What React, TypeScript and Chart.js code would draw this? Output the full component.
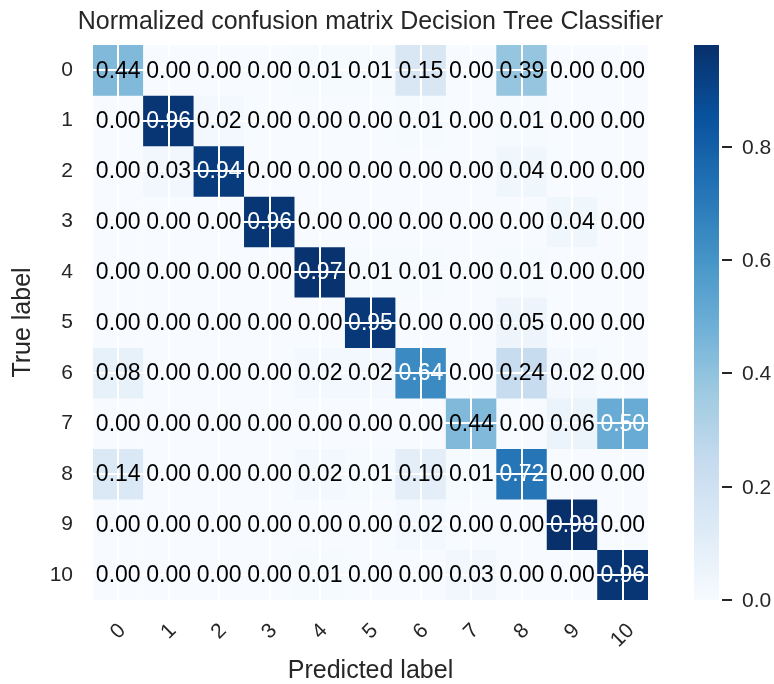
import React, { useEffect, useRef } from 'react';
import { Chart, registerables } from 'chart.js';

Chart.register(...registerables);

const FONT = '"Liberation Sans", Arial, sans-serif';
const TEXT_COLOR = '#262626';

const TITLE = 'Normalized confusion matrix Decision Tree Classifier';
const X_TITLE = 'Predicted label';
const Y_TITLE = 'True label';

const PRED_LABELS = ['0', '1', '2', '3', '4', '5', '6', '7', '8', '9', '10'];
const TRUE_LABELS = ['0', '1', '2', '3', '4', '5', '6', '7', '8', '9', '10'];

const ROW_0 = [0.44, 0.0, 0.0, 0.0, 0.01, 0.01, 0.15, 0.0, 0.39, 0.0, 0.0];
const ROW_1 = [0.0, 0.96, 0.02, 0.0, 0.0, 0.0, 0.01, 0.0, 0.01, 0.0, 0.0];
const ROW_2 = [0.0, 0.03, 0.94, 0.0, 0.0, 0.0, 0.0, 0.0, 0.04, 0.0, 0.0];
const ROW_3 = [0.0, 0.0, 0.0, 0.96, 0.0, 0.0, 0.0, 0.0, 0.0, 0.04, 0.0];
const ROW_4 = [0.0, 0.0, 0.0, 0.0, 0.97, 0.01, 0.01, 0.0, 0.01, 0.0, 0.0];
const ROW_5 = [0.0, 0.0, 0.0, 0.0, 0.0, 0.95, 0.0, 0.0, 0.05, 0.0, 0.0];
const ROW_6 = [0.08, 0.0, 0.0, 0.0, 0.02, 0.02, 0.64, 0.0, 0.24, 0.02, 0.0];
const ROW_7 = [0.0, 0.0, 0.0, 0.0, 0.0, 0.0, 0.0, 0.44, 0.0, 0.06, 0.5];
const ROW_8 = [0.14, 0.0, 0.0, 0.0, 0.02, 0.01, 0.1, 0.01, 0.72, 0.0, 0.0];
const ROW_9 = [0.0, 0.0, 0.0, 0.0, 0.0, 0.0, 0.02, 0.0, 0.0, 0.98, 0.0];
const ROW_10 = [0.0, 0.0, 0.0, 0.0, 0.01, 0.0, 0.0, 0.03, 0.0, 0.0, 0.96];

const MATRIX = [ROW_0, ROW_1, ROW_2, ROW_3, ROW_4, ROW_5, ROW_6, ROW_7, ROW_8, ROW_9, ROW_10];

const COLORBAR_TICKS = [0, 0.2, 0.4, 0.6, 0.8];

const BLUES = ['#f7fbff', '#deebf7', '#c6dbef', '#9ecae1', '#6baed6', '#4292c6', '#2171b5', '#08519c', '#08306b'];

const VMAX = Math.max(...MATRIX.map((r) => Math.max(...r)));

function hexToRgb(h: string) {
  return [parseInt(h.slice(1, 3), 16), parseInt(h.slice(3, 5), 16), parseInt(h.slice(5, 7), 16)];
}

function blues(t: number) {
  const tt = Math.max(0, Math.min(1, t));
  const pos = tt * (BLUES.length - 1);
  const i = Math.min(BLUES.length - 2, Math.floor(pos));
  const f = pos - i;
  const a = hexToRgb(BLUES[i]);
  const b = hexToRgb(BLUES[i + 1]);
  const c = a.map((v, k) => Math.round(v + (b[k] - v) * f));
  return `rgb(${c[0]},${c[1]},${c[2]})`;
}

const matrixPlugin = {
  id: 'matrixExtras',
  afterDraw(chart: any) {
    const ctx = chart.ctx;
    const xs = chart.scales.x;
    const ys = chart.scales.y;
    const cb = chart.scales.cb;
    const area = chart.chartArea;
    ctx.save();
    // title, centred over the matrix
    ctx.font = `25px ${FONT}`;
    ctx.fillStyle = TEXT_COLOR;
    ctx.textAlign = 'center';
    ctx.textBaseline = 'middle';
    ctx.fillText(TITLE, (area.left + area.right) / 2, area.top / 2);
    // annotations
    ctx.font = `23px ${FONT}`;
    MATRIX.forEach((row, r) => {
      row.forEach((v, c) => {
        ctx.fillStyle = v > VMAX / 2 ? '#ffffff' : '#000000';
        ctx.fillText(v.toFixed(2), xs.getPixelForValue(c), ys.getPixelForValue(r) + 1);
      });
    });
    // rotated x tick labels
    ctx.font = `21px ${FONT}`;
    ctx.fillStyle = TEXT_COLOR;
    const capH = 21 * 0.716;
    PRED_LABELS.forEach((lab, i) => {
      const w = ctx.measureText(lab).width;
      const bboxH = (w + capH) * Math.SQRT1_2;
      const cx = xs.getPixelForTick(i);
      const cy = xs.top + 22 + bboxH / 2;
      ctx.save();
      ctx.translate(cx, cy);
      ctx.rotate(-Math.PI / 4);
      ctx.fillText(lab, 0, 0);
      ctx.restore();
    });
    // colorbar
    const left = 694;
    const width = 25;
    const yBottom = cb.getPixelForValue(0);
    const yTop = cb.getPixelForValue(VMAX);
    const grad = ctx.createLinearGradient(0, yBottom, 0, yTop);
    BLUES.forEach((col, i) => grad.addColorStop(i / (BLUES.length - 1), col));
    ctx.fillStyle = grad;
    ctx.fillRect(left, yTop, width, yBottom - yTop);
    ctx.strokeStyle = TEXT_COLOR;
    ctx.lineWidth = 2;
    ctx.fillStyle = TEXT_COLOR;
    ctx.textAlign = 'left';
    ctx.font = `21px ${FONT}`;
    COLORBAR_TICKS.forEach((t) => {
      const y = Math.round(cb.getPixelForValue(t));
      ctx.beginPath();
      ctx.moveTo(left + width + 3, y);
      ctx.lineTo(left + width + 13, y);
      ctx.stroke();
      ctx.fillText(t.toFixed(1), left + width + 23, y + 1);
    });
    ctx.restore();
  },
};

export default function App() {
  const ref = useRef<HTMLCanvasElement | null>(null);
  useEffect(() => {
    if (!ref.current) return;
    Chart.defaults.font.family = FONT;
    const datasets = MATRIX.map((row, r) => ({
      label: TRUE_LABELS[r],
      data: row.map(() => [r - 0.5, r + 0.5]),
      backgroundColor: row.map((v) => blues(v / VMAX)),
      borderWidth: 0,
      barPercentage: 1,
      categoryPercentage: 1,
      grouped: false,
      xAxisID: 'x',
      yAxisID: 'y',
    }));
    const chart = new Chart(ref.current, {
      type: 'bar',
      data: { labels: PRED_LABELS, datasets: datasets as any },
      plugins: [matrixPlugin],
      options: {
        animation: false,
        responsive: true,
        maintainAspectRatio: false,
        layout: { padding: { left: 0, right: 126, top: 45, bottom: 0 } },
        plugins: {
          legend: { display: false },
          tooltip: { enabled: false },
          title: { display: false },
        },
        scales: {
          x: {
            type: 'category',
            offset: true,
            grid: { offset: false, color: '#ffffff', lineWidth: 2, drawTicks: false, z: 1 },
            border: { display: false },
            ticks: { display: false },
            title: {
              display: true,
              text: X_TITLE,
              color: TEXT_COLOR,
              font: { family: FONT, size: 25, lineHeight: 1 },
              padding: { top: 0, bottom: 0 },
            },
            afterFit: (s: any) => {
              s.height = 84;
            },
          },
          y: {
            type: 'linear',
            min: -0.5,
            max: 10.5,
            reverse: true,
            afterBuildTicks: (s: any) => {
              s.ticks = TRUE_LABELS.map((_, i) => ({ value: i }));
            },
            ticks: {
              callback: (v: any) => TRUE_LABELS[v],
              color: TEXT_COLOR,
              font: { family: FONT, size: 21 },
              padding: 20,
              autoSkip: false,
            },
            grid: { color: '#ffffff', lineWidth: 2, drawTicks: false, z: 1 },
            border: { display: false },
            title: {
              display: true,
              text: Y_TITLE,
              color: TEXT_COLOR,
              font: { family: FONT, size: 25, lineHeight: 1 },
              padding: { top: 11, bottom: 0 },
            },
            afterFit: (s: any) => {
              s.width = 93;
            },
          },
          cb: {
            type: 'linear',
            position: 'right',
            min: 0,
            max: VMAX,
            display: false,
          },
        },
      } as any,
    });
    return () => chart.destroy();
  }, []);
  return (
    <div style={{ position: 'absolute', left: 0, top: 0, width: 774, height: 684, background: '#ffffff' }}>
      <canvas ref={ref} />
    </div>
  );
}
